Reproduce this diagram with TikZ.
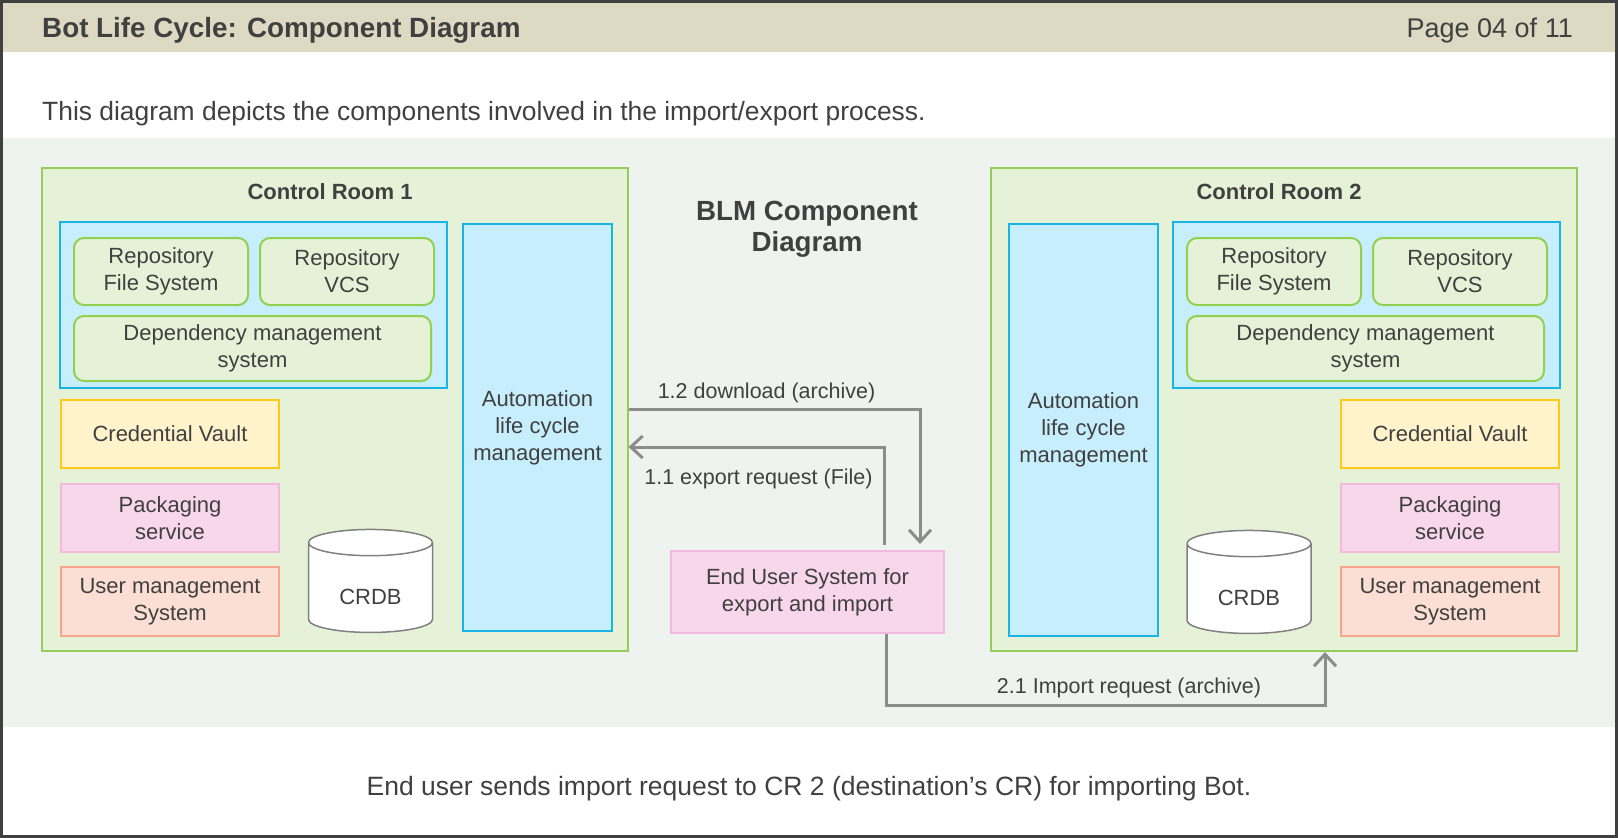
\documentclass[tikz,border=0pt]{standalone}
\usepackage{fontspec}
\setmainfont{Liberation Sans}
\usepackage{xcolor}
\usetikzlibrary{arrows.meta,positioning,shapes.geometric,calc}
\definecolor{hdrbeige}{RGB}{221,217,195}
\definecolor{panelgray}{RGB}{238,243,240}
\definecolor{framegray}{RGB}{64,64,64}
\definecolor{txtdark}{RGB}{64,64,64}
\definecolor{roomfill}{RGB}{230,242,215}
\definecolor{roomline}{RGB}{150,205,90}
\definecolor{modline}{RGB}{146,208,80}
\definecolor{repofill}{RGB}{199,238,252}
\definecolor{repoline}{RGB}{25,180,230}
\definecolor{vaultfill}{RGB}{255,243,204}
\definecolor{vaultline}{RGB}{255,200,20}
\definecolor{packfill}{RGB}{248,215,236}
\definecolor{packline}{RGB}{242,185,220}
\definecolor{userfill}{RGB}{252,223,212}
\definecolor{userline}{RGB}{248,165,140}
\definecolor{dbline}{RGB}{128,128,128}
\definecolor{flowgray}{RGB}{140,140,140}

\begin{document}
\begin{tikzpicture}[
  x=1pt, y=-1pt,
  font=\fontsize{22}{27}\selectfont, text=txtdark,
  node distance=10pt,
  room/.style={draw=roomline, line width=2pt, fill=roomfill, minimum width=586pt, minimum height=483pt},
  repo/.style={draw=repoline, line width=2pt, fill=repofill, minimum width=387pt, minimum height=166pt},
  module/.style={draw=modline, line width=2pt, fill=roomfill, rounded corners=10pt, align=center, inner sep=0pt, minimum width=174pt, minimum height=67pt},
  lcm/.style={draw=repoline, line width=2pt, fill=repofill, align=center, inner sep=0pt, minimum width=149pt},
  vault/.style={draw=vaultline, line width=2pt, fill=vaultfill, align=center, inner sep=0pt, minimum width=218pt, minimum height=68pt},
  packbox/.style={draw=packline, line width=2pt, fill=packfill, align=center, inner sep=0pt, minimum width=218pt, minimum height=68pt},
  usrbox/.style={draw=userline, line width=2pt, fill=userfill, align=center, inner sep=0pt, minimum width=218pt, minimum height=69pt},
  db/.style={cylinder, shape border rotate=90, aspect=0.38, draw=dbline, line width=1.5pt, fill=white, minimum width=124pt, minimum height=103pt, text height=29pt},
  heading/.style={font=\bfseries\fontsize{22}{26}\selectfont},
  flowlbl/.style={anchor=base, font=\fontsize{21.5}{26}\selectfont},
  flow/.style={draw=flowgray, line width=3pt, -{Straight Barb[length=12pt,width=22pt]}}
]
\useasboundingbox (0,0) rectangle (1618,838);

% page frame
\fill[hdrbeige] (0,0) rectangle (1618,52);
\fill[panelgray] (0,138) rectangle (1618,727);
\draw[framegray, line width=3pt] (1.5,1.5) rectangle (1616.5,836.5);

\node[anchor=base west, inner sep=0pt, font=\bfseries\fontsize{27.8}{32}\selectfont] (title) at (42,37) {Bot Life Cycle: Component Diagram};
\node[anchor=base east, inner sep=0pt, font=\fontsize{27}{32}\selectfont] (page) at (1573,37) {Page 04 of 11};
\node[anchor=base west, inner sep=0pt, font=\fontsize{26.4}{31}\selectfont] (intro) at (42,120) {This diagram depicts the components involved in the import/export process.};

% control room 1
\node[room] (cr1) at (334.5,409.5) {};
\node[heading] (cr1t) at (330,192) {Control Room 1};
\node[repo] (repo1) at (253.5,305) {};
\node[module] (fs1) at (161,271.5) {Repository\\File System};
\node[module, right=of fs1] (vcs1) {Repository\\VCS};
\node[module, minimum width=357pt, minimum height=65pt, below right=9pt and 0pt of fs1.south west] (dep1) {Dependency management\\system};
\node[lcm, minimum height=407pt] (alm1) at (537.5,427.5) {Automation\\life cycle\\management};
\node[vault] (vault1) at (170,434) {Credential Vault};
\node[packbox, below=14pt of vault1] (pack1) {Packaging\\service};
\node[usrbox, below=13pt of pack1] (user1) {User management\\System};
\node[db] (crdb1) at (370.5,590) {CRDB};

% title in the middle
\node[align=center, font=\bfseries\fontsize{27.7}{31}\selectfont] (blm) at (807,229) {BLM Component\\Diagram};

% control room 2
\node[room] (cr2) at (1283.5,409.5) {};
\node[heading] (cr2t) at (1279,192) {Control Room 2};
\node[lcm, minimum height=412pt] (alm2) at (1083.5,430) {Automation\\life cycle\\management};
\node[repo] (repo2) at (1366,305) {};
\node[module] (fs2) at (1274,271.5) {Repository\\File System};
\node[module, right=of fs2] (vcs2) {Repository\\VCS};
\node[module, minimum width=357pt, minimum height=65pt, below right=9pt and 0pt of fs2.south west] (dep2) {Dependency management\\system};
\node[vault] (vault2) at (1450,434) {Credential Vault};
\node[packbox, below=14pt of vault2] (pack2) {Packaging\\service};
\node[usrbox, below=13pt of pack2] (user2) {User management\\System};
\node[db] (crdb2) at (1249,591) {CRDB};

% end user
\node[packbox, minimum width=273pt, minimum height=82pt] (eus) at (807.5,592) {End User System for\\export and import};

% flows
\draw[flow] (cr1.east) -| ([xshift=-25pt,yshift=6pt]eus.north east);
\draw[flow] ([xshift=-61pt,yshift=5pt]eus.north east) |- ([yshift=-37.5pt]cr1.east);
\draw[flow] ([xshift=78.5pt]eus.south) -- ++(0,71) -| ([xshift=41.5pt]cr2.south);
\node[flowlbl] (l12) at (766.5,398) {1.2 download (archive)};
\node[flowlbl] (l11) at (758.5,484) {1.1 export request (File)};
\node[flowlbl] (l21) at (1129,693) {2.1 Import request (archive)};

\node[anchor=base, inner sep=0pt, font=\fontsize{26.5}{31}\selectfont] (note) at (809,795) {End user sends import request to CR 2 (destination’s CR) for importing Bot.};

\end{tikzpicture}
\end{document}
